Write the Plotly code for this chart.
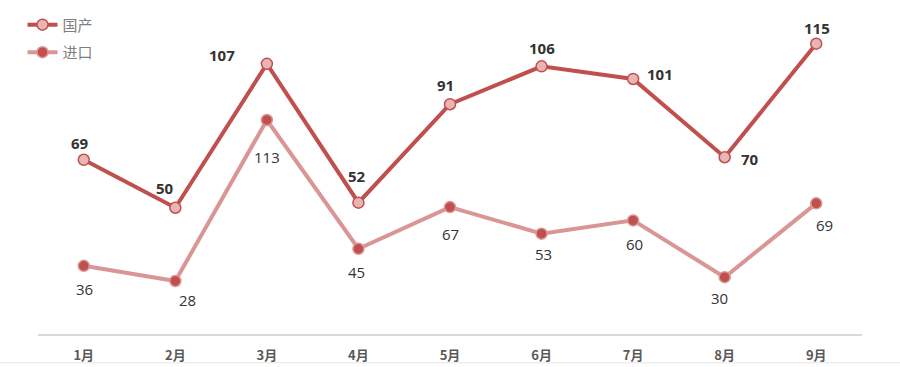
import plotly.graph_objects as go

months = ["1月", "2月", "3月", "4月", "5月", "6月", "7月", "8月", "9月"]
domestic = [69, 50, 107, 52, 91, 106, 101, 70, 115]
imported = [36, 28, 113, 45, 67, 53, 60, 30, 69]

# label offsets (pixels) relative to each point
dom_off = [(-4, 17), (-10, 20), (-45, 9), (-1, 27), (-5, 19), (0, 18), (27, 5), (25, -2), (1, 16)]
imp_off = [(1, -23), (12, -19), (0, -37), (-2, -23), (0, -27), (2, -20), (1, -24), (-5, -21), (8, -22)]

DARK = "#C0504D"
LIGHT = "#D99694"

fig = go.Figure()
fig.add_trace(go.Scatter(
    x=months, y=domestic, name="国产", mode="lines+markers",
    line=dict(color=DARK, width=4), legendgroup="a",
    marker=dict(size=11, color="#E8B4B4", line=dict(color=DARK, width=1.5)),
    yaxis="y",
))
fig.add_trace(go.Scatter(
    x=months, y=imported, name="进口", mode="lines+markers",
    line=dict(color=LIGHT, width=4), legendgroup="b",
    marker=dict(size=11, color=DARK, line=dict(color=LIGHT, width=1.5)),
    yaxis="y2",
))

annotations = []
for m, v, (dx, dy) in zip(months, domestic, dom_off):
    annotations.append(dict(x=m, y=v, xref="x", yref="y", text=f"<b>{v}</b>", showarrow=False,
                            xshift=dx, yshift=dy,
                            font=dict(family="Open Sans, Liberation Sans, sans-serif", size=15, color="#333333")))
for m, v, (dx, dy) in zip(months, imported, imp_off):
    annotations.append(dict(x=m, y=v, xref="x", yref="y2", text=str(v), showarrow=False,
                            xshift=dx, yshift=dy,
                            font=dict(family="Open Sans, Liberation Sans, sans-serif", size=15, color="#333333")))

fig.update_layout(
    width=900, height=367,
    margin=dict(l=38, r=38, t=31, b=33, autoexpand=False),
    paper_bgcolor="white", plot_bgcolor="white",
    showlegend=True,
    legend=dict(x=0.025, y=0.977, xref="container", yref="container", xanchor="left", yanchor="top",
                orientation="v", bgcolor="rgba(0,0,0,0)", traceorder="grouped", tracegroupgap=5,
                font=dict(family="Noto Sans CJK SC, sans-serif", size=15, color="#7F7F7F")),
    xaxis=dict(type="category", range=[-0.5, 8.5], showgrid=False, zeroline=False,
               showline=True, linecolor="#D9D9D9", linewidth=1.5,
               ticks="outside", ticklen=9, tickcolor="rgba(0,0,0,0)",
               tickfont=dict(family="Noto Sans CJK SC, sans-serif", size=13, color="#595959"),
               tickvals=months, ticktext=[f"<b>{m}</b>" for m in months]),
    yaxis=dict(range=[0, 120], visible=False, fixedrange=True),
    yaxis2=dict(range=[0, 160], visible=False, overlaying="y", side="right"),
    annotations=annotations,
    shapes=[dict(type="line", xref="paper", yref="paper", x0=-0.05, x1=1.05, y0=-0.095, y1=-0.095,
                 line=dict(color="#E6E6E6", width=1))],
)

fig.write_html("out.html")
